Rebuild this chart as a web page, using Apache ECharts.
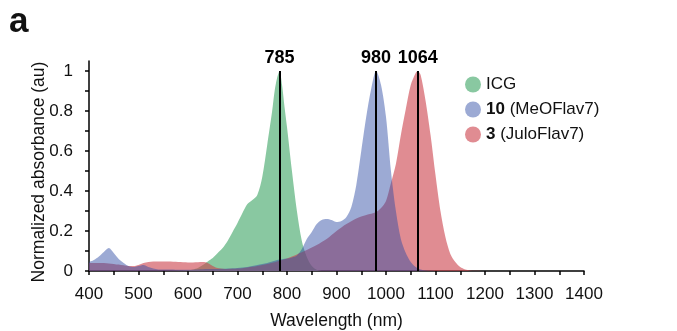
<!DOCTYPE html>
<html>
<head>
<meta charset="utf-8">
<script src="https://cdn.jsdelivr.net/npm/echarts@6/dist/echarts.min.js"></script>
<style>
html,body{margin:0;padding:0;background:#fff;}
#chart{width:677px;height:331px;}
</style>
</head>
<body>
<div id="chart"></div>
<script>
// ---- data ----
var icgX = [400, 450, 500, 550, 600, 610, 620, 630, 640, 650, 660, 670, 680, 690, 700, 710, 720, 730, 740, 750, 760, 770, 775, 780, 785, 790, 795, 800, 810, 820, 830, 840, 850, 860, 870, 900];
var icgY = [0, 0, 0, 0, 0.004, 0.008, 0.015, 0.03, 0.048, 0.065, 0.09, 0.115, 0.15, 0.195, 0.24, 0.29, 0.335, 0.355, 0.38, 0.47, 0.63, 0.80, 0.90, 0.965, 1.0, 0.93, 0.82, 0.72, 0.50, 0.30, 0.15, 0.07, 0.025, 0.006, 0, 0];

var meoX = [400, 410, 420, 430, 440, 450, 460, 470, 480, 490, 500, 510, 520, 530, 540, 560, 580, 600, 620, 640, 660, 680, 700, 720, 740, 760, 780, 800, 810, 820, 830, 840, 850, 860, 870, 880, 890, 900, 910, 920, 930, 940, 950, 960, 970, 980, 990, 1000, 1010, 1020, 1030, 1040, 1050, 1060, 1070, 1080, 1100];
var meoY = [0.045, 0.055, 0.072, 0.095, 0.115, 0.09, 0.06, 0.04, 0.025, 0.02, 0.025, 0.03, 0.02, 0.012, 0.008, 0.007, 0.006, 0.006, 0.008, 0.01, 0.01, 0.012, 0.015, 0.02, 0.03, 0.04, 0.055, 0.062, 0.068, 0.078, 0.11, 0.16, 0.195, 0.235, 0.255, 0.26, 0.255, 0.245, 0.25, 0.27, 0.32, 0.43, 0.60, 0.77, 0.91, 1.0, 0.93, 0.77, 0.50, 0.30, 0.16, 0.09, 0.045, 0.02, 0.007, 0.002, 0];

var juloX = [400, 420, 440, 460, 480, 490, 500, 510, 520, 540, 560, 580, 600, 620, 630, 640, 650, 660, 680, 700, 720, 740, 760, 780, 800, 820, 840, 860, 880, 900, 920, 940, 960, 980, 990, 1000, 1010, 1020, 1030, 1040, 1050, 1060, 1064, 1070, 1080, 1090, 1100, 1110, 1120, 1130, 1140, 1150, 1160, 1170, 1180, 1200];
var juloY = [0.04, 0.04, 0.038, 0.032, 0.025, 0.025, 0.03, 0.04, 0.045, 0.047, 0.047, 0.045, 0.043, 0.044, 0.045, 0.04, 0.025, 0.015, 0.01, 0.012, 0.018, 0.025, 0.035, 0.048, 0.063, 0.083, 0.105, 0.13, 0.16, 0.2, 0.235, 0.263, 0.28, 0.295, 0.315, 0.35, 0.44, 0.535, 0.68, 0.81, 0.93, 0.99, 1.0, 0.98, 0.85, 0.68, 0.48, 0.30, 0.17, 0.085, 0.045, 0.02, 0.008, 0.003, 0.001, 0];

var seriesNames = ['ICG', '10 (MeOFlav7)', '3 (JuloFlav7)'];
var peaks = [785, 980, 1064];
var xTickLabels = [400, 500, 600, 700, 800, 900, 1000, 1100, 1200, 1300, 1400];
var yTickLabels = [0, 0.2, 0.4, 0.6, 0.8, 1];
var yTicks = [0, 0.1, 0.2, 0.3, 0.4, 0.5, 0.6, 0.7, 0.8, 0.9, 1];

function pairs(xs, ys) { return xs.map(function (x, i) { return [x, ys[i]]; }); }

var FONT = '"Liberation Sans", Arial, sans-serif';
var cGreen = 'rgb(137,200,161)';
var cBlue = 'rgb(156,170,212)';
var cRed = 'rgb(224,140,146)';

var chart = echarts.init(document.getElementById('chart'), null, {renderer: 'canvas'});

function areaSeries(name, data, fill) {
  return {
    name: name,
    type: 'line',
    data: data,
    smooth: 0.3,
    showSymbol: false,
    symbol: 'none',
    lineStyle: {width: 0},
    areaStyle: {color: fill, opacity: 1},
    itemStyle: {color: fill},
    silent: true,
    animation: false
  };
}

var blueSeries = areaSeries(seriesNames[1], pairs(meoX, meoY), 'rgba(45,74,164,0.47)');
blueSeries.markLine = {
  symbol: 'none',
  silent: true,
  animation: false,
  lineStyle: {color: '#000', width: 2, type: 'solid'},
  label: {
    show: true,
    position: 'end',
    distance: 4,
    formatter: '{b}',
    color: '#000',
    fontWeight: 'bold',
    fontSize: 18,
    fontFamily: FONT
  },
  emphasis: {disabled: true},
  data: peaks.map(function (p) {
    return [{coord: [p, 0], name: String(p)}, {coord: [p, 1]}];
  })
};

chart.setOption({
  animation: false,
  textStyle: {fontFamily: FONT, color: '#000'},
  grid: {left: 89, right: 93, top: 61, bottom: 60, containLabel: false, outerBoundsMode: 'none'},
  graphic: [{
    type: 'text',
    left: 9,
    top: 5,
    style: {text: 'a', font: 'bold 35px ' + FONT, fill: '#111'}
  }],
  legend: {
    orient: 'vertical',
    left: 460,
    top: 71,
    icon: 'circle',
    itemWidth: 16,
    itemHeight: 16,
    itemGap: 8,
    selectedMode: false,
    textStyle: {
      fontSize: 17,
      fontFamily: FONT,
      color: '#111',
      rich: {
        b: {fontWeight: 'bold', fontSize: 17, fontFamily: FONT, color: '#111'},
        n: {fontSize: 17, fontFamily: FONT, color: '#111'}
      }
    },
    formatter: function (name) {
      var sp = name.indexOf(' ');
      if (sp > 0) return '{b|' + name.slice(0, sp) + '}{n|' + name.slice(sp) + '}';
      return '{n|' + name + '}';
    },
    data: [
      {name: seriesNames[0], itemStyle: {color: cGreen}},
      {name: seriesNames[1], itemStyle: {color: cBlue}},
      {name: seriesNames[2], itemStyle: {color: cRed}}
    ]
  },
  xAxis: {
    type: 'value',
    min: 400,
    max: 1400,
    interval: 50,
    name: 'Wavelength (nm)',
    nameLocation: 'middle',
    nameGap: 41,
    nameMoveOverlap: false,
    nameTextStyle: {fontSize: 17.5, fontFamily: FONT, color: '#111'},
    axisLine: {show: true, onZero: false, lineStyle: {color: '#000', width: 1.5}},
    axisTick: {show: true, length: 4, inside: false, lineStyle: {color: '#000', width: 1.5}},
    axisLabel: {
      fontSize: 17, fontFamily: FONT, color: '#111', margin: 15,
      formatter: function (v) { return xTickLabels.indexOf(v) >= 0 ? String(v) : ''; }
    },
    splitLine: {show: false}
  },
  yAxis: {
    type: 'value',
    min: 0,
    max: 1.05,
    name: 'Normalized absorbance (au)',
    nameLocation: 'middle',
    nameGap: 41,
    nameMoveOverlap: false,
    nameTextStyle: {fontSize: 17.5, fontFamily: FONT, color: '#111', padding: [0, 12, 0, 0]},
    axisLine: {show: true, onZero: false, lineStyle: {color: '#000', width: 1.5}},
    axisTick: {show: true, length: 4, inside: false, customValues: yTicks, lineStyle: {color: '#000', width: 1.5}},
    axisLabel: {
      fontSize: 17, fontFamily: FONT, color: '#111', margin: 16,
      customValues: yTickLabels,
      formatter: function (v) { return String(Math.round(v * 10) / 10); }
    },
    splitLine: {show: false}
  },
  series: [
    areaSeries(seriesNames[0], pairs(icgX, icgY), cGreen),
    areaSeries(seriesNames[2], pairs(juloX, juloY), 'rgba(203,63,73,0.6)'),
    blueSeries
  ]
});
</script>
</body>
</html>
